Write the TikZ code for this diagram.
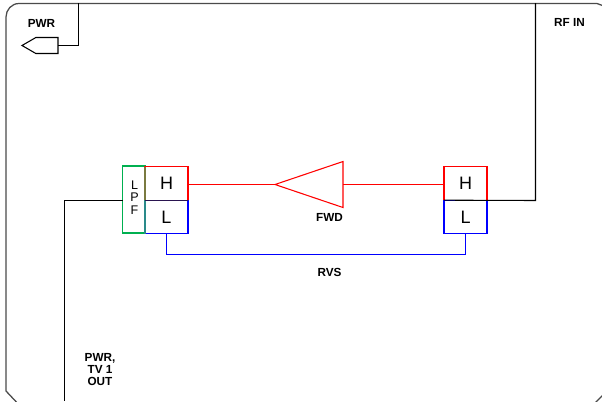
\documentclass[tikz,border=0pt]{standalone}
\usepackage{fontspec}
\setmainfont{Liberation Sans}
\usepackage{xcolor}
\usepackage{tikz}
\usetikzlibrary{positioning,shapes.geometric,shapes.symbols}
\definecolor{fwdred}{HTML}{FF0000}
\definecolor{rvsblue}{HTML}{0000FF}
\definecolor{lpfgreen}{HTML}{00B050}
\definecolor{framegray}{HTML}{4A4A4A}
\definecolor{olivejoin}{HTML}{7A7A40}
\definecolor{tealjoin}{HTML}{2A8A8A}
\definecolor{midjoin}{HTML}{2A1450}
\tikzset{
  wire/.style={draw=black, line width=0.8pt},
  redwire/.style={draw=fwdred, line width=0.8pt},
  bluewire/.style={draw=rvsblue, line width=0.8pt},
  framing/.style={draw=framegray, line width=0.95pt},
  highbox/.style={draw=fwdred, line width=0.85pt, outer sep=0pt, inner sep=0pt, minimum width=32.25pt, minimum height=25pt, font=\fontsize{13.5}{15}\selectfont},
  lowbox/.style={highbox, draw=rvsblue},
  lpfbox/.style={draw=lpfgreen, line width=0.85pt, outer sep=0pt, inner sep=0pt, minimum width=17.25pt, minimum height=50.25pt},
  lpftext/.style={align=center, inner sep=0pt, font=\fontsize{9.4}{9.2}\selectfont},
  amp/.style={isosceles triangle, isosceles triangle stretches, shape border rotate=180, draw=fwdred, line width=0.8pt, outer sep=0pt, inner sep=0pt, minimum width=34.5pt, minimum height=51pt},
  plug/.style={signal, signal to=west, signal pointer angle=60, draw=black, line width=0.8pt, outer sep=0pt, inner sep=0pt, minimum width=27pt, minimum height=12pt},
  tag/.style={align=center, inner sep=0pt, font=\fontsize{8.8}{9}\selectfont\bfseries}
}
\begin{document}
\begin{tikzpicture}[x=0.75pt, y=-0.75pt]
  \useasboundingbox (0,0) rectangle (602,401);
  \clip (0,0) rectangle (602,401);
  \draw[framing] (6,391) -- (6,17) to[out=90, in=180] (19,3.5) -- (597,3.5) -- (612,9) -- (612,386) -- (590,408) -- (22,408) -- cycle;

  \node[lpfbox] (lpf) at (134,199.5) {};
  \node[highbox] (hleft) at (166.5,183.5) {H};
  \node[lowbox, below=0pt of hleft] (lleft) {L};
  \node[highbox] (hright) at (465.5,183.5) {H};
  \node[lowbox, below=0pt of hright] (lright) {L};
  \node[amp, anchor=apex] (fwdamp) at (275,184.5) {};
  \node[plug, anchor=east] (pwrplug) at (58,45.5) {};

  \node[lpftext] at (134.5,197.5) (lpftag) {L\\P\\F};
  \node[tag] at (41.5,23) (pwrtag) {PWR};
  \node[tag] at (569.5,22) (rftag) {RF IN};
  \node[tag] at (329.5,217) (fwdtag) {FWD};
  \node[tag] at (329.5,272) (rvstag) {RVS};
  \node[tag] at (100,370) (outtag) {PWR,\\TV 1\\OUT};

  \coordinate (pwrtop) at (78.5,3);
  \coordinate (pwrbend) at (78.5,45.5);
  \coordinate (rftop) at (535.5,3);
  \coordinate (rfbend) at (535.5,200.5);
  \coordinate (outend) at (64.5,401);
  \coordinate (outbend) at (64.5,200.5);
  \coordinate (rvsleft) at (166.5,254.5);
  \coordinate (rvsright) at (465.5,254.5);

  \draw[redwire] (hleft.east |- fwdamp.apex) -- (fwdamp.apex);
  \draw[redwire] (fwdamp.lower side) -- (hright.west |- fwdamp.lower side);
  \draw[bluewire] (lleft.south) -- (rvsleft) -- (rvsright) -- (lright.south);
  \draw[wire] (lpf.west |- outbend) -- (outbend) -- (outend);
  \draw[wire] (lright.north west) -- (rfbend) -- (rftop);
  \draw[wire] (pwrplug.east) -- (pwrbend) -- (pwrtop);
  \draw[draw=olivejoin, line width=0.85pt] (hleft.north west) -- (hleft.south west);
  \draw[draw=tealjoin, line width=0.85pt] (lleft.north west) -- (lleft.south west);
  \draw[draw=midjoin, line width=1pt] (lleft.north west) -- (lleft.north east);
\end{tikzpicture}
\end{document}
